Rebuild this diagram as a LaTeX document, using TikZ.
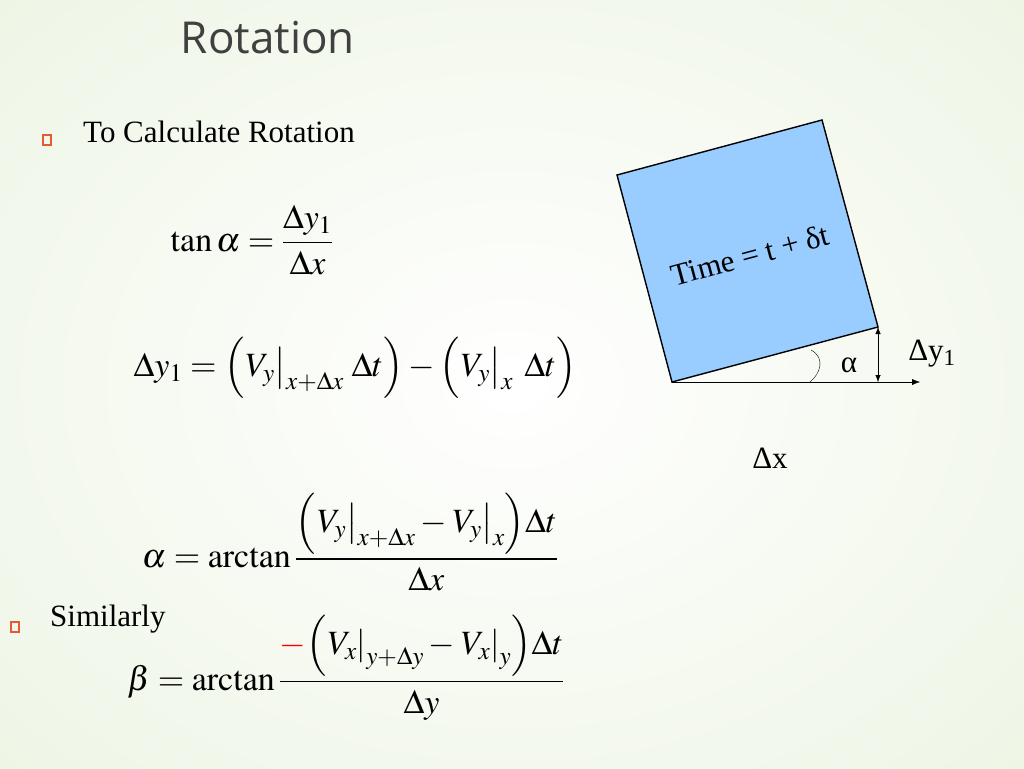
\documentclass[tikz,border=0pt]{standalone}
\usepackage{amsmath}
\usepackage{mathptmx}
\usepackage{fontspec}
\setmainfont{Liberation Serif}
\newfontfamily\titlefont{Open Sans}
\usetikzlibrary{arrows.meta}
\definecolor{sqblue}{RGB}{153,204,255}
\definecolor{bulletred}{RGB}{230,90,50}
\definecolor{titlegray}{RGB}{64,64,64}
\definecolor{bggreen}{RGB}{236,244,226}
\tikzset{
  bulletbox/.style={draw=bulletred,line width=1.2pt,minimum width=8pt,minimum height=10pt,inner sep=0pt},
  bodytext/.style={font=\fontsize{31}{36}\selectfont,inner sep=0pt},
  eqn/.style={font=\fontsize{34}{40}\selectfont,inner sep=0pt},
  figlabel/.style={font=\fontsize{31}{36}\selectfont,inner sep=0pt}
}
\newcommand{\evalat}[2]{\left.#1\right|_{#2}}
\begin{document}
\begin{tikzpicture}[x=1pt,y=-1pt]
\useasboundingbox (0,0) rectangle (1024,768);
% background
\shade[inner color=white,outer color=bggreen] (-300,-240) rectangle (1324,1008);
% title and text
\node[font=\titlefont\fontsize{44}{50}\selectfont,text=titlegray] (title) at (268,38) {Rotation};
\node[bulletbox] (b1) at (47,140) {};
\node[bodytext,anchor=west] (calc) at (83,132) {To Calculate Rotation};
\node[bulletbox] (b2) at (15,627) {};
\node[bodytext,anchor=west] (sim) at (50,619) {Similarly};
% equations
\node[eqn] (eqtan) at (252,240) {$\tan\alpha=\dfrac{\Delta y_1}{\Delta x}$};
\node[eqn] (eqdy) at (355,368) {$\Delta y_1=\Bigl(\evalat{V_y}{x+\Delta x}\,\Delta t\Bigr)-\Bigl(\evalat{V_y}{x}\;\Delta t\Bigr)$};
\node[eqn] (eqalpha) at (350,542) {$\alpha=\arctan\dfrac{\Bigl(\evalat{V_y}{x+\Delta x}-\evalat{V_y}{x}\Bigr)\Delta t}{\Delta x}$};
\node[eqn] (eqbeta) at (346,668) {$\beta=\arctan\dfrac{{\color{red}-}\Bigl(\evalat{V_x}{y+\Delta y}-\evalat{V_x}{y}\Bigr)\Delta t}{\Delta y}$};
% rotated square
\coordinate (tl) at (617,175);
\coordinate (tr) at (822,120);
\coordinate (br) at (878,327);
\coordinate (bl) at (672,382);
\coordinate (xend) at (920,382);
\coordinate (foot) at (878,382);
\filldraw[fill=sqblue,draw=black,line width=1.4pt] (tl) -- (tr) -- (br) -- (bl) -- cycle;
\node[figlabel,rotate=15] (time) at (750,255) {Time = t + δt};
\draw[-{Latex[length=8pt]}] (bl) -- (xend);
\draw[{Latex[length=7pt]}-{Latex[length=7pt]}] (br) -- (foot);
\draw (811,350) .. controls (826,358) and (820,374) .. (810,382);
\node[figlabel] (alpha) at (849,365) {α};
\node[figlabel] (dy) at (932,354) {Δy\textsubscript{1}};
\node[figlabel] (dx) at (770,458) {Δx};
\end{tikzpicture}
\end{document}
